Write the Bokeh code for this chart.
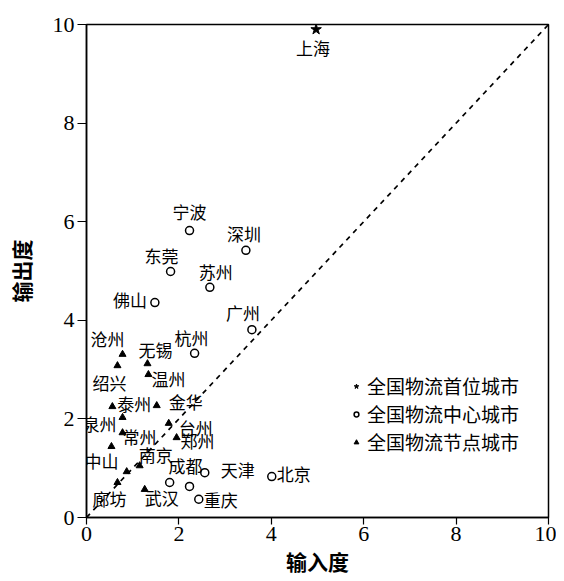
from bokeh.plotting import figure
from bokeh.models import ColumnDataSource, Legend, LegendItem, FixedTicker, Range1d
from bokeh.embed import file_html
from bokeh.resources import INLINE
from bokeh.core.properties import value

# ---- data ----
city = ["上海",
        "宁波", "深圳", "东莞", "苏州", "佛山", "广州", "杭州",
        "天津", "北京", "重庆", "成都", "武汉",
        "沧州", "无锡", "绍兴", "温州", "泰州", "金华", "泉州",
        "台州", "常州", "郑州", "中山", "南京", "廊坊", "", ""]
in_degree = [4.97,
             2.23, 3.45, 1.82, 2.67, 1.48, 3.58, 2.34,
             2.56, 4.01, 2.43, 2.23, 1.80,
             0.78, 1.32, 0.67, 1.34, 0.56, 1.52, 0.78,
             1.78, 0.78, 1.95, 0.54, 1.15, 0.67, 1.26, 0.87]
out_degree = [9.90,
              5.82, 5.42, 4.99, 4.67, 4.36, 3.81, 3.33,
              0.91, 0.83, 0.37, 0.63, 0.71,
              3.31, 3.12, 3.08, 2.90, 2.25, 2.27, 2.03,
              1.91, 1.72, 1.62, 1.44, 1.05, 0.71, 0.57, 0.93]
level = ["首位",
         "中心", "中心", "中心", "中心", "中心", "中心", "中心",
         "中心", "中心", "中心", "中心", "中心",
         "节点", "节点", "节点", "节点", "节点", "节点", "节点",
         "节点", "节点", "节点", "节点", "节点", "节点", "节点", "节点"]

legend_labels = {"首位": "全国物流首位城市",
                 "中心": "全国物流中心城市",
                 "节点": "全国物流节点城市"}
ticks = [0, 2, 4, 6, 8, 10]
diag = [0, 10]

# ---- label placement (screen px, layout only) ----
label_dx = [-3,
            0, -2, -9, 6, -25, -9, -3,
            33, 22, 22, -4, -8,
            -15, 8, -8, 20, 22, 29, -23,
            27, 17, 21, -10, 16, -8, 0, 0]
label_dy = [18,
            -19, -17, -16, -16, -3, -17, -16,
            -3, -3, 0, -21, 15,
            -16, -14, 17, 4, -3, -4, 6,
            4, 4, 3, 14, -11, 16, 0, 0]

p = figure(width=556, height=578, output_backend="svg", toolbar_location=None,
           x_range=Range1d(0, 10), y_range=Range1d(0, 10),
           min_border_left=86, min_border_right=8, min_border_top=24,
           min_border_bottom=58)
p.background_fill_color = "white"
p.border_fill_color = "white"
p.grid.visible = False
p.outline_line_color = "black"
p.outline_line_width = 1.5

for ax in (p.xaxis[0], p.yaxis[0]):
    ax.ticker = FixedTicker(ticks=ticks)
    ax.axis_line_color = "black"
    ax.axis_line_width = 1.5
    ax.major_tick_line_color = "black"
    ax.major_tick_line_width = 1.2
    ax.major_tick_in = 0
    ax.minor_tick_line_color = None
    ax.major_label_text_font = "Liberation Serif"
    ax.major_label_text_font_size = "22px"
    ax.major_label_text_color = "black"
    ax.axis_label_text_font = "Noto Sans CJK SC"
    ax.axis_label_text_font_size = "21px"
    ax.axis_label_text_font_style = "bold"
    ax.axis_label_text_color = "black"

p.xaxis.major_tick_out = 7
p.xaxis.major_label_standoff = 2
p.xaxis.axis_label = "输入度"
p.xaxis.axis_label_standoff = 2
p.yaxis.major_tick_out = 9
p.yaxis.major_label_standoff = 3
p.yaxis.axis_label = "输出度"
p.yaxis.axis_label_standoff = 14

# diagonal dashed reference line
p.line(diag, diag, line_color="black", line_width=1.7, line_dash="5 5")

src = {}
for k in ("首位", "中心", "节点"):
    idx = [i for i, lv in enumerate(level) if lv == k]
    src[k] = ColumnDataSource(dict(
        x=[in_degree[i] for i in idx],
        y=[out_degree[i] for i in idx],
        name=[city[i] for i in idx],
        dx=[label_dx[i] for i in idx],
        dy=[label_dy[i] for i in idx],
    ))

r_star = p.scatter("x", "y", source=src["首位"], marker="star", size=11,
                   fill_color="black", line_color="black")
r_circ = p.scatter("x", "y", source=src["中心"], marker="circle", size=8,
                   fill_color="white", line_color="black", line_width=1.5)
r_tri = p.scatter("x", "y", source=src["节点"], marker="triangle", size=7,
                  fill_color="black", line_color="black")

for k in ("首位", "中心", "节点"):
    p.text("x", "y", text="name", source=src[k], x_offset="dx", y_offset="dy",
           text_font=value("Noto Sans CJK SC"), text_font_size="17px",
           text_color="black", text_align="center", text_baseline="middle")

legend = Legend(items=[
    LegendItem(label=legend_labels["首位"], renderers=[r_star]),
    LegendItem(label=legend_labels["中心"], renderers=[r_circ]),
    LegendItem(label=legend_labels["节点"], renderers=[r_tri]),
], location=(264, 62))
legend.label_text_font = "Noto Sans CJK SC"
legend.label_text_font_size = "19px"
legend.label_text_color = "black"
legend.border_line_alpha = 0
legend.background_fill_alpha = 0
legend.padding = 0
legend.margin = 0
legend.spacing = 1
legend.label_height = 20
legend.glyph_width = 12
legend.glyph_height = 20
legend.label_standoff = 5
p.add_layout(legend, "center")

open("out.html", "w").write(file_html(p, INLINE))
